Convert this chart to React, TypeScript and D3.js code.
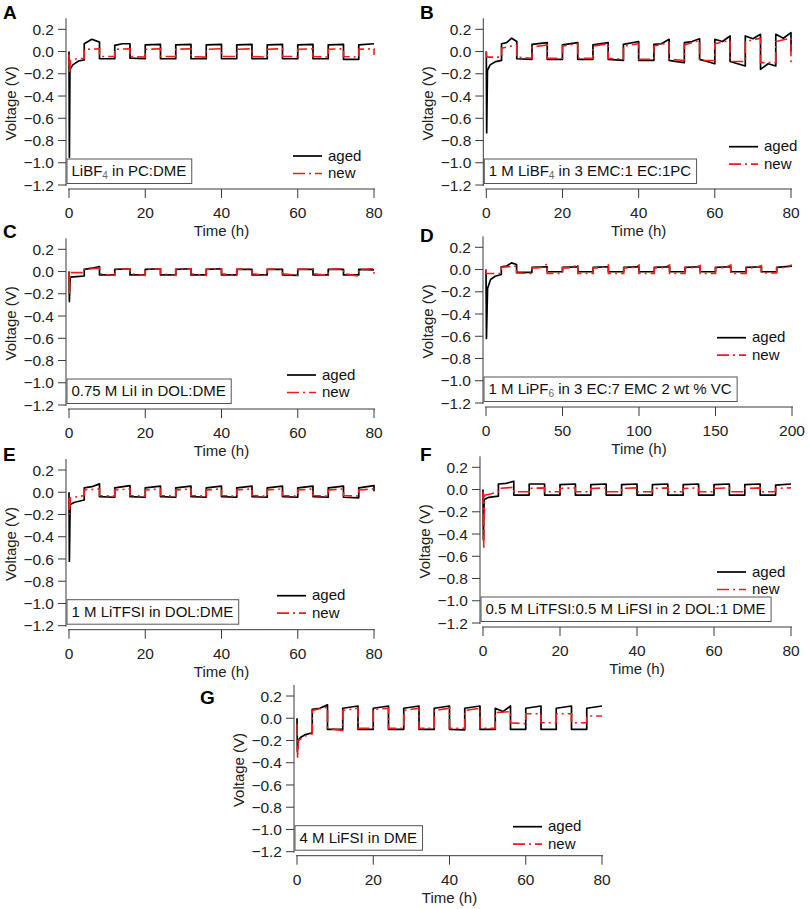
import React from 'react';
import * as d3 from 'd3';

type P = [number, number];

// ---------- shared axis data ----------
const edges80 = [4, 8, 12, 16, 20, 24, 28, 32, 36, 40, 44, 48, 52, 56, 60, 64, 68, 72, 76, 80];
const edges200 = [10, 20, 30, 40, 50, 60, 70, 80, 90, 100, 110, 120, 130, 140, 150, 160, 170, 180, 190, 200];
const ticks80 = [0, 20, 40, 60, 80];
const ticks200 = [0, 50, 100, 150, 200];
const yTicks = [0.2, 0.0, -0.2, -0.4, -0.6, -0.8, -1.0, -1.2];
const seriesNames = ['aged', 'new'];

// ---------- panel A ----------
const labelA = 'LiBF_4 in PC:DME';
const agedAHead: P[] = [[0, 0], [0.1, -0.95], [0.25, -0.16], [1, -0.12], [2.5, -0.085], [4, -0.075]];
const agedASegs = [
  [0.07, 0.11, 0.085], [-0.065, -0.065], [0.055, 0.07, 0.07], [-0.06, -0.065], [0.06, 0.065],
  [-0.065, -0.065], [0.06, 0.065], [-0.065, -0.065], [0.06, 0.065], [-0.065, -0.065],
  [0.06, 0.065], [-0.065, -0.065], [0.06, 0.065], [-0.065, -0.065], [0.06, 0.065],
  [-0.065, -0.065], [0.06, 0.065], [-0.07, -0.07], [0.06, 0.07],
];
const agedATail: P[] = [];
const newAHead: P[] = [[0, -0.02], [0.1, -0.2], [0.4, -0.08], [2, -0.065], [4, -0.06]];
const newASegs = [
  [0.02, 0.025], [-0.045, -0.045], [0.02, 0.025], [-0.045, -0.05], [0.02, 0.025],
  [-0.045, -0.045], [0.02, 0.025], [-0.045, -0.05], [0.02, 0.025], [-0.045, -0.045],
  [0.02, 0.025], [-0.045, -0.05], [0.02, 0.025], [-0.045, -0.045], [0.02, 0.025],
  [-0.045, -0.05], [0.02, 0.025], [-0.045, -0.05], [0.02, 0.025],
];
const newATail: P[] = [[80, -0.03]];

// ---------- panel B ----------
const labelB = '1 M LiBF_4 in 3 EMC:1 EC:1PC';
const agedBHead: P[] = [[0, 0], [0.1, -0.73], [0.3, -0.17], [1, -0.12], [2.5, -0.09], [4, -0.08]];
const agedBSegs = [
  [0.07, 0.08, 0.12, 0.09], [-0.065, -0.07], [0.065, 0.08], [-0.07, -0.07], [0.06, 0.08],
  [-0.07, -0.07], [0.06, 0.08], [-0.07, -0.08], [0.065, 0.09], [-0.08, -0.08],
  [0.065, 0.07, 0.11], [-0.08, -0.09, -0.1], [0.08, 0.09, 0.115], [-0.07, -0.09, -0.11], [0.11, 0.09, 0.14],
  [-0.09, -0.11, -0.13], [0.14, 0.115, 0.155], [-0.16, -0.11, -0.13], [0.155, 0.12, 0.17],
];
const agedBTail: P[] = [[80, 0.0]];
const newBHead: P[] = [[0, 0], [0.1, -0.05], [4, -0.05]];
const newBSegs = [
  [0.03, 0.06], [-0.05, -0.06], [0.04, 0.06], [-0.06, -0.06], [0.05, 0.07],
  [-0.06, -0.06], [0.05, 0.07], [-0.06, -0.07], [0.05, 0.07], [-0.07, -0.07],
  [0.05, 0.08], [-0.07, -0.08], [0.06, 0.1], [-0.08, -0.08], [0.07, 0.1],
  [-0.09, -0.09], [0.09, 0.12], [-0.1, -0.1], [0.09, 0.12],
];
const newBTail: P[] = [[80, -0.13]];

// ---------- panel C ----------
const labelC = '0.75 M LiI in DOL:DME';
const agedCHead: P[] = [[0, 0], [0.1, -0.27], [0.3, -0.05], [2, -0.045], [4, -0.04]];
const agedCSegs = [
  [0.02, 0.03, 0.045], [-0.03, -0.03], [0.02, 0.025], [-0.03, -0.03], [0.02, 0.025],
  [-0.03, -0.03], [0.02, 0.025], [-0.03, -0.03], [0.02, 0.025], [-0.03, -0.03],
  [0.02, 0.02], [-0.03, -0.03], [0.02, 0.02], [-0.03, -0.035], [0.02, 0.02],
  [-0.03, -0.03], [0.02, 0.02], [-0.03, -0.03], [0.02, 0.015],
];
const agedCTail: P[] = [];
const newCHead: P[] = [[0, 0], [0.1, -0.2], [0.3, -0.01], [4, -0.01]];
const newCSegs = [
  [0.02, 0.03], [-0.02, -0.035], [0.02, 0.025], [-0.02, -0.035], [0.02, 0.025],
  [-0.02, -0.035], [0.02, 0.025], [-0.02, -0.035], [0.02, 0.025], [-0.02, -0.035],
  [0.02, 0.025], [-0.02, -0.035], [0.02, 0.025], [-0.02, -0.035], [0.02, 0.025],
  [-0.02, -0.035], [0.02, 0.025], [-0.02, -0.04], [0.02, 0.025],
];
const newCTail: P[] = [[80, -0.02]];

// ---------- panel D ----------
const labelD = '1 M LiPF_6 in 3 EC:7 EMC 2 wt % VC';
const agedDHead: P[] = [[0, 0], [0.3, -0.62], [1, -0.17], [3, -0.09], [6, -0.06], [10, -0.045]];
const agedDSegs = [
  [0.025, 0.03, 0.06, 0.045], [-0.025, -0.025], [0.02, 0.025], [-0.02, -0.02], [0.02, 0.025],
  [-0.02, -0.02], [0.02, 0.025], [-0.02, -0.02], [0.02, 0.025], [-0.02, -0.02],
  [0.02, 0.025], [-0.02, -0.02], [0.02, 0.025], [-0.02, -0.02], [0.02, 0.025],
  [-0.02, -0.02], [0.02, 0.025], [-0.02, -0.02], [0.02, 0.03],
];
const agedDTail: P[] = [];
const newDHead: P[] = [[0, 0], [0.2, -0.035], [10, -0.035]];
const newDSegs = [
  [0.02, 0.025, 0.03], [-0.03, -0.035], [0.015, 0.015, 0.02, 0.05], [-0.035, -0.035], [0.015, 0.015, 0.02, 0.05],
  [-0.035, -0.035], [0.015, 0.015, 0.02, 0.04], [-0.035, -0.035], [0.015, 0.015, 0.02, 0.04], [-0.035, -0.035],
  [0.015, 0.015, 0.02, 0.04], [-0.035, -0.035], [0.015, 0.015, 0.02, 0.035], [-0.035, -0.035], [0.015, 0.015, 0.02, 0.04],
  [-0.035, -0.035], [0.015, 0.015, 0.02, 0.035], [-0.03, -0.03], [0.015, 0.02, 0.04],
];
const newDTail: P[] = [];

// ---------- panel E ----------
const labelE = '1 M LiTFSI in DOL:DME';
const agedEHead: P[] = [[0, 0], [0.1, -0.62], [0.3, -0.11], [1.5, -0.09], [4, -0.07]];
const agedESegs = [
  [0.04, 0.05, 0.075], [-0.04, -0.045], [0.04, 0.06], [-0.04, -0.045], [0.04, 0.055],
  [-0.04, -0.045], [0.04, 0.055], [-0.04, -0.045], [0.04, 0.055], [-0.04, -0.045],
  [0.04, 0.055], [-0.04, -0.045], [0.04, 0.055], [-0.04, -0.045], [0.04, 0.055],
  [-0.04, -0.045], [0.04, 0.055], [-0.045, -0.05], [0.04, 0.06],
];
const agedETail: P[] = [[80, 0.01]];
const newEHead: P[] = [[0, -0.05], [0.1, -0.2], [0.4, -0.05], [4, -0.03]];
const newESegs = [
  [0.02, 0.03], [-0.03, -0.035], [0.02, 0.03], [-0.03, -0.035], [0.02, 0.03],
  [-0.03, -0.035], [0.02, 0.03], [-0.03, -0.035], [0.02, 0.03], [-0.03, -0.035],
  [0.02, 0.03], [-0.03, -0.035], [0.02, 0.03], [-0.03, -0.035], [0.02, 0.03],
  [-0.03, -0.035], [0.02, 0.03], [-0.03, -0.035], [0.02, 0.03],
];
const newETail: P[] = [];

// ---------- panel F ----------
const labelF = '0.5 M LiTFSI:0.5 M LiFSI in 2 DOL:1 DME';
const agedFHead: P[] = [[0, 0], [0.1, -0.45], [0.3, -0.09], [1.5, -0.07], [4, -0.06]];
const agedFSegs = [
  [0.05, 0.055, 0.075], [-0.05, -0.05], [0.05, 0.05], [-0.05, -0.05], [0.045, 0.05],
  [-0.05, -0.05], [0.045, 0.05], [-0.05, -0.05], [0.045, 0.05], [-0.05, -0.05],
  [0.045, 0.05], [-0.05, -0.05], [0.045, 0.05], [-0.05, -0.05], [0.045, 0.05],
  [-0.05, -0.05], [0.045, 0.05], [-0.05, -0.05], [0.04, 0.05],
];
const agedFTail: P[] = [];
const newFHead: P[] = [[0, -0.02], [0.2, -0.54], [0.4, -0.05], [2, -0.04], [4, -0.02]];
const newFSegs = [
  [0.01, 0.02], [-0.02, -0.02], [0.01, 0.015], [-0.02, -0.02], [0.01, 0.015],
  [-0.02, -0.02], [0.01, 0.015], [-0.02, -0.02], [0.01, 0.015], [-0.02, -0.02],
  [0.01, 0.015], [-0.02, -0.02], [0.01, 0.015], [-0.02, -0.02], [0.01, 0.015],
  [-0.02, -0.02], [0.01, 0.015], [-0.02, -0.02], [0.01, 0.015],
];
const newFTail: P[] = [];

// ---------- panel G ----------
const labelG = '4 M LiFSI in DME';
const agedGHead: P[] = [[0, 0], [0.1, -0.3], [0.3, -0.2], [1, -0.17], [2, -0.15], [4, -0.13]];
const agedGSegs = [
  [0.08, 0.09, 0.12], [-0.1, -0.1], [0.09, 0.11], [-0.1, -0.1], [0.09, 0.11],
  [-0.1, -0.1], [0.09, 0.11], [-0.1, -0.1], [0.09, 0.11], [-0.1, -0.105],
  [0.09, 0.11], [-0.1, -0.1], [0.09, 0.06, 0.11], [-0.1, -0.1], [0.09, 0.11],
  [-0.1, -0.1], [0.09, 0.11], [-0.1, -0.1], [0.09, 0.11],
];
const agedGTail: P[] = [];
const newGHead: P[] = [[0, -0.05], [0.15, -0.36], [0.4, -0.2], [2, -0.16], [4, -0.14]];
const newGSegs = [
  [0.07, 0.1], [-0.09, -0.11], [0.07, 0.09], [-0.09, -0.09], [0.08, 0.09],
  [-0.09, -0.09], [0.07, 0.09], [-0.09, -0.09], [0.07, 0.09], [-0.09, -0.09],
  [0.07, 0.09], [-0.09, -0.09], [0.05, 0.06], [-0.04, -0.05], [0.04, 0.04],
  [-0.04, -0.04], [0.04, 0.04], [-0.04, -0.04], [0.02, 0.02],
];
const newGTail: P[] = [];

// ---------- helpers ----------
function build(head: P[], segs: number[][], edges: number[], tail: P[]): P[] {
  const pts: P[] = head.map((p) => [p[0], p[1]] as P);
  segs.forEach((vals, i) => {
    const t0 = edges[i];
    const t1 = edges[i + 1];
    vals.forEach((v, k) => pts.push([t0 + ((t1 - t0) * k) / (vals.length - 1), v]));
  });
  return pts.concat(tail);
}

const FONT = "'Liberation Sans', Arial, Helvetica, sans-serif";
let ctx: CanvasRenderingContext2D | null = null;
function measure(s: string, size: number): number {
  if (!ctx && typeof document !== 'undefined') ctx = document.createElement('canvas').getContext('2d');
  if (!ctx) return s.length * size * 0.55;
  ctx.font = `${size}px ${FONT}`;
  return ctx.measureText(s).width;
}

function parseLabel(s: string): { t: string; sub: boolean }[] {
  const out: { t: string; sub: boolean }[] = [];
  let buf = '';
  for (let i = 0; i < s.length; i++) {
    if (s[i] === '_') {
      if (buf) out.push({ t: buf, sub: false });
      buf = '';
      out.push({ t: s[i + 1], sub: true });
      i++;
    } else buf += s[i];
  }
  if (buf) out.push({ t: buf, sub: false });
  return out;
}

interface PanelSpec {
  id: string;
  x0: number;
  yTop: number;
  w: number;
  xMax: number;
  xTicks: number[];
  letter: [number, number];
  legend: [number, number];
  label: string;
  aged: P[];
  fresh: P[];
}

const H = 155.7;
const TICK_FS = 15.5;
const LABEL_FS = 15;
const BOX_FS = 15;

const panels: PanelSpec[] = [
  { id: 'A', x0: 69, yTop: 29.3, w: 305, xMax: 80, xTicks: ticks80, letter: [3, 18.5], legend: [293, 156], label: labelA,
    aged: build(agedAHead, agedASegs, edges80, agedATail), fresh: build(newAHead, newASegs, edges80, newATail) },
  { id: 'B', x0: 486.3, yTop: 29.3, w: 304.7, xMax: 80, xTicks: ticks80, letter: [420, 18.5], legend: [729, 146.7], label: labelB,
    aged: build(agedBHead, agedBSegs, edges80, agedBTail), fresh: build(newBHead, newBSegs, edges80, newBTail) },
  { id: 'C', x0: 69, yTop: 249.3, w: 305, xMax: 80, xTicks: ticks80, letter: [3, 238], legend: [287, 375], label: labelC,
    aged: build(agedCHead, agedCSegs, edges80, agedCTail), fresh: build(newCHead, newCSegs, edges80, newCTail) },
  { id: 'D', x0: 486, yTop: 247.3, w: 306, xMax: 200, xTicks: ticks200, letter: [420, 242], legend: [717, 337.7], label: labelD,
    aged: build(agedDHead, agedDSegs, edges200, agedDTail), fresh: build(newDHead, newDSegs, edges200, newDTail) },
  { id: 'E', x0: 69, yTop: 470, w: 305, xMax: 80, xTicks: ticks80, letter: [3, 461], legend: [277, 595.7], label: labelE,
    aged: build(agedEHead, agedESegs, edges80, agedETail), fresh: build(newEHead, newESegs, edges80, newETail) },
  { id: 'F', x0: 483, yTop: 467.3, w: 308, xMax: 80, xTicks: ticks80, letter: [420, 461], legend: [717, 572], label: labelF,
    aged: build(agedFHead, agedFSegs, edges80, agedFTail), fresh: build(newFHead, newFSegs, edges80, newFTail) },
  { id: 'G', x0: 297, yTop: 696, w: 305, xMax: 80, xTicks: ticks80, letter: [200, 704], legend: [513, 826.7], label: labelG,
    aged: build(agedGHead, agedGSegs, edges80, agedGTail), fresh: build(newGHead, newGSegs, edges80, newGTail) },
];

const AXIS = '#3a3a3a';
const RED = '#ee1c1c';
const DASH = '12,4,2,4';

function Panel({ p }: { p: PanelSpec }) {
  const x = d3.scaleLinear().domain([0, p.xMax]).range([p.x0, p.x0 + p.w]);
  const y = d3.scaleLinear().domain([-1.2, 0.2]).range([p.yTop + H, p.yTop]);
  const line = d3.line<P>().x((d) => x(d[0])).y((d) => y(d[1]));
  const yAxisX = p.x0 - 3;
  const yBottom = y(-1.2);
  const xAxisY = yBottom + 4;
  const fmt = d3.format('.1f');

  const parts = parseLabel(p.label);
  const textW = parts.reduce((s, q) => s + measure(q.t, q.sub ? 10 : BOX_FS), 0);
  const boxX = yAxisX + 1;
  const boxBottom = yBottom - 1.5;
  const boxH = 24.5;

  return (
    <g>
      <text x={p.letter[0]} y={p.letter[1]} fontFamily={FONT} fontWeight="bold" fontSize={19} fill="#000">{p.id}</text>
      {/* axes */}
      <line x1={yAxisX} x2={yAxisX} y1={p.yTop - 11} y2={yBottom + 1} stroke={AXIS} strokeWidth={1} />
      <line x1={p.x0 - 1} x2={p.x0 + p.w + 1} y1={xAxisY} y2={xAxisY} stroke={AXIS} strokeWidth={1} />
      {yTicks.map((t) => (
        <g key={'y' + t}>
          <line x1={yAxisX - 8} x2={yAxisX} y1={y(t)} y2={y(t)} stroke={AXIS} strokeWidth={1} />
          <text x={yAxisX - 12} y={y(t)} dy="0.36em" textAnchor="end" fontFamily={FONT} fontSize={TICK_FS} fill="#222">{fmt(t)}</text>
        </g>
      ))}
      {p.xTicks.map((t) => (
        <g key={'x' + t}>
          <line x1={x(t)} x2={x(t)} y1={xAxisY} y2={xAxisY + 9} stroke={AXIS} strokeWidth={1} />
          <text x={x(t)} y={xAxisY + 29} textAnchor="middle" fontFamily={FONT} fontSize={TICK_FS} fill="#222">{t}</text>
        </g>
      ))}
      <text x={p.x0 + p.w / 2} y={xAxisY + 47} textAnchor="middle" fontFamily={FONT} fontSize={LABEL_FS} fill="#222">Time (h)</text>
      <text transform={`translate(${p.x0 - 53},${p.yTop + 74}) rotate(-90)`} textAnchor="middle" fontFamily={FONT} fontSize={LABEL_FS} fill="#222">Voltage (V)</text>
      {/* data */}
      <path d={line(p.aged) || ''} fill="none" stroke="#000" strokeWidth={1.7} strokeLinejoin="round" />
      <path d={line(p.fresh) || ''} fill="none" stroke={RED} strokeWidth={1.6} strokeDasharray={DASH} />
      {/* annotation box */}
      <rect x={boxX} y={boxBottom - boxH} width={textW + 10} height={boxH} fill="#fff" stroke="#555" strokeWidth={1} />
      <text x={boxX + 4.5} y={boxBottom - 7.5} fontFamily={FONT} fontSize={BOX_FS} fill="#111">
        {parts.map((q, i) =>
          q.sub ? (
            <tspan key={i} fontSize={10} dy={3} fill="#666">{q.t}</tspan>
          ) : (
            <tspan key={i} dy={i > 0 && parts[i - 1].sub ? -3 : 0}>{q.t}</tspan>
          )
        )}
      </text>
      {/* legend */}
      {seriesNames.map((name, i) => {
        const ly = p.legend[1] + i * 17.5;
        return (
          <g key={name}>
            <line x1={p.legend[0]} x2={p.legend[0] + 29} y1={ly} y2={ly}
              stroke={i === 0 ? '#000' : RED} strokeWidth={1.7} strokeDasharray={i === 0 ? undefined : DASH} />
            <text x={p.legend[0] + 35} y={ly} dy="0.3em" fontFamily={FONT} fontSize={LABEL_FS} fill="#111">{name}</text>
          </g>
        );
      })}
    </g>
  );
}

export default function App() {
  return (
    <svg width={808} height={909} viewBox="0 0 808 909"
      style={{ position: 'absolute', left: 0, top: 0, background: '#fff' }}>
      <rect x={0} y={0} width={808} height={909} fill="#fff" />
      {panels.map((p) => (
        <Panel key={p.id} p={p} />
      ))}
    </svg>
  );
}
